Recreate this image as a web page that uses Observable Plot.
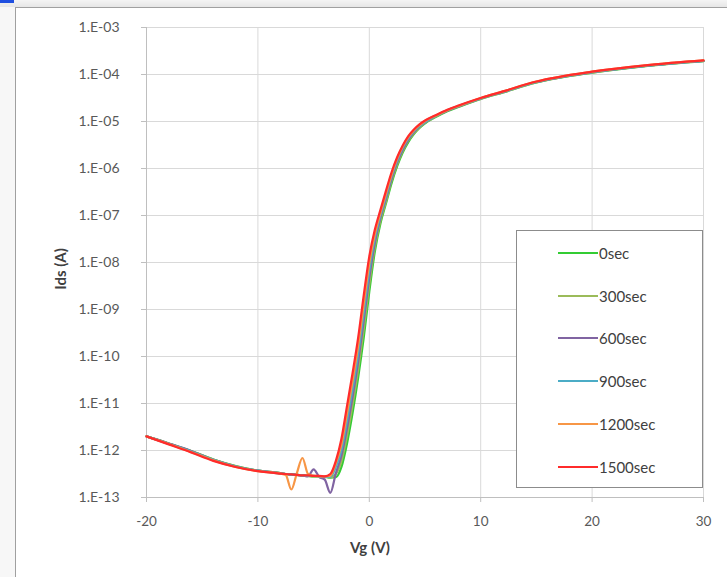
<!DOCTYPE html>
<html>
<head>
<meta charset="utf-8">
<script src="https://cdn.jsdelivr.net/npm/d3@7"></script>
<script src="https://cdn.jsdelivr.net/npm/@observablehq/plot@0.6"></script>
<style>
  html, body { margin: 0; padding: 0; background: #ffffff; }
  body { width: 727px; height: 577px; position: relative; overflow: hidden; font-family: Lato, "Open Sans", sans-serif; }
  #topbar { position: absolute; left: 0; top: 0; width: 727px; height: 7px; background: linear-gradient(#f4f4f4, #e6e6e6); }
  #bluemark { position: absolute; left: 0; top: 0; width: 14px; height: 3px; background: #1f4fe0; }
  #frame { position: absolute; left: 15px; top: 7px; width: 712px; height: 570px; border-left: 1px solid #a0a0a0; border-top: 1px solid #a0a0a0; box-sizing: border-box; background: #ffffff; }
  #leftpad { position: absolute; left: 0; top: 7px; width: 15px; height: 570px; background: #f7f7f7; }
  #chart { position: absolute; left: 15px; top: 8px; }
  .title { position: absolute; font-weight: bold; font-size: 15px; color: #404040; white-space: nowrap; }
  #legend { position: absolute; left: 516px; top: 230px; width: 187px; height: 258px; box-sizing: border-box; border: 1px solid #8c8c8c; background: #ffffff; }
  .lg-item { position: absolute; left: 41px; height: 18px; font-size: 15px; color: #404040; white-space: nowrap; }
  .lg-line { position: absolute; left: 0; top: 8px; width: 40px; height: 2px; }
  .lg-text { position: absolute; left: 41px; top: 0; line-height: 18px; }
</style>
</head>
<body>
<div id="topbar"></div>
<div id="bluemark"></div>
<div id="leftpad"></div>
<div id="frame"></div>
<div id="chart"></div>
<div class="title" id="ytitle" style="left:60px; top:269px; transform: translate(-50%,-50%) rotate(-90deg);">Ids (A)</div>
<div class="title" id="xtitle" style="left:370px; top:547px; transform: translate(-50%,-50%);">Vg (V)</div>
<div id="legend"></div>
<script>
// ---- data (log10 of Ids in A) ----
const vg = [-20,-18,-16,-14,-12,-10,-8,-7.5,-7,-6.5,-6,-5.5,-5,-4.5,-4,-3.5,-3,-2.5,-2,-1.5,-1,-0.5,0,0.5,1,1.5,2,2.5,3,3.5,4,4.5,5,6,7,8,10,12,15,20,25,30];

const log_0sec = [-11.70,-11.85,-12.01,-12.19,-12.33,-12.43,-12.48,-12.50,-12.51,-12.52,-12.53,-12.54,-12.55,-12.55,-12.56,-12.58,
  -12.57,-12.35,-11.85,-11.20,-10.45,-9.60,-8.62,-7.76,-7.17,-6.74,-6.31,-5.95,-5.66,-5.44,-5.27,-5.14,-5.04,-4.90,-4.78,-4.69,-4.52,-4.38,-4.17,-3.96,-3.815,-3.715];
const log_300sec = [-11.70,-11.85,-12.01,-12.19,-12.33,-12.43,-12.48,-12.50,-12.51,-12.52,-12.53,-12.54,-12.55,-12.55,-12.56,-12.57,
  -12.50,-12.23,-11.69,-11.03,-10.28,-9.42,-8.47,-7.67,-7.11,-6.70,-6.26,-5.91,-5.63,-5.41,-5.25,-5.13,-5.03,-4.89,-4.77,-4.68,-4.52,-4.38,-4.17,-3.96,-3.81,-3.71];
const log_600sec = [-11.70,-11.85,-12.01,-12.20,-12.34,-12.43,-12.48,-12.50,-12.51,-12.52,-12.53,-12.55,-12.40,-12.56,-12.62,-12.90,
  -12.48,-12.11,-11.53,-10.86,-10.11,-9.24,-8.32,-7.58,-7.05,-6.64,-6.22,-5.87,-5.60,-5.39,-5.23,-5.11,-5.02,-4.88,-4.77,-4.68,-4.51,-4.37,-4.16,-3.95,-3.81,-3.71];
const log_900sec = [-11.70,-11.86,-12.02,-12.20,-12.34,-12.43,-12.49,-12.50,-12.51,-12.52,-12.53,-12.54,-12.54,-12.55,-12.56,-12.56,
  -12.35,-11.99,-11.37,-10.69,-9.94,-9.06,-8.17,-7.48,-7.00,-6.59,-6.17,-5.83,-5.56,-5.36,-5.21,-5.10,-5.01,-4.88,-4.76,-4.67,-4.51,-4.37,-4.16,-3.95,-3.81,-3.71];
const log_1200sec = [-11.70,-11.86,-12.03,-12.21,-12.35,-12.44,-12.49,-12.52,-12.83,-12.48,-12.16,-12.50,-12.54,-12.55,-12.55,-12.54,
  -12.27,-11.87,-11.21,-10.52,-9.77,-8.88,-8.02,-7.39,-6.94,-6.53,-6.13,-5.79,-5.53,-5.33,-5.19,-5.08,-4.99,-4.87,-4.76,-4.67,-4.50,-4.36,-4.15,-3.94,-3.80,-3.70];
const log_1500sec = [-11.70,-11.87,-12.04,-12.22,-12.35,-12.44,-12.49,-12.50,-12.51,-12.52,-12.53,-12.53,-12.54,-12.54,-12.55,-12.50,
  -12.22,-11.75,-11.05,-10.35,-9.60,-8.70,-7.87,-7.30,-6.88,-6.47,-6.08,-5.76,-5.51,-5.31,-5.17,-5.06,-4.98,-4.86,-4.75,-4.66,-4.50,-4.36,-4.15,-3.94,-3.80,-3.70];

const seriesNames = ["0sec","300sec","600sec","900sec","1200sec","1500sec"];
const seriesColors = ["#33cc33","#9bbb59","#8064a2","#4bacc6","#f79646","#ff2b2b"];
const seriesLogs = [log_0sec, log_300sec, log_600sec, log_900sec, log_1200sec, log_1500sec];

const xTicks = [-20,-10,0,10,20,30];
const yTicks = [1e-13,1e-12,1e-11,1e-10,1e-9,1e-8,1e-7,1e-6,1e-5,1e-4,1e-3];
const yTickLabels = ["1.E-13","1.E-12","1.E-11","1.E-10","1.E-09","1.E-08","1.E-07","1.E-06","1.E-05","1.E-04","1.E-03"];

// ---- build ----
const tables = seriesNames.map((name, k) =>
  vg.map((v, i) => ({vg: v, ids: Math.pow(10, seriesLogs[k][i]), name}))
);

const gridColor = "#d9d9d9";
const axisColor = "#bfbfbf";
const textColor = "#595959";

const chart = Plot.plot({
  width: 712,
  height: 569,
  marginLeft: 131,
  marginRight: 24,
  marginTop: 19,
  marginBottom: 80,
  style: {background: "transparent", fontFamily: "Lato, 'Open Sans', sans-serif", fontSize: "13px", color: textColor},
  x: {domain: [-20, 30]},
  y: {type: "log", domain: [1e-13, 1e-3]},
  marks: [
    Plot.gridX(xTicks, {stroke: gridColor, strokeOpacity: 1}),
    Plot.gridY(yTicks, {stroke: gridColor, strokeOpacity: 1}),
    Plot.ruleY([1e-13], {stroke: axisColor}),
    Plot.ruleX([-20], {stroke: axisColor}),
    Plot.axisX(xTicks, {tickSize: 5, tickPadding: 14, stroke: axisColor, fill: textColor, fontSize: 13.5, label: null, tickFormat: d => String(d)}),
    Plot.axisY(yTicks, {tickSize: 5, tickPadding: 22, stroke: axisColor, fill: textColor, fontSize: 14, label: null,
      tickFormat: d => yTickLabels[yTicks.indexOf(d)]}),
    ...tables.map((t, k) => Plot.line(t, {x: "vg", y: "ids", stroke: seriesColors[k], strokeWidth: 2.2, curve: "monotone-x"}))
  ]
});
document.getElementById("chart").appendChild(chart);

// legend
const legend = document.getElementById("legend");
const legendTops = [13, 56, 98, 141, 184, 227];
seriesNames.forEach((name, k) => {
  const item = document.createElement("div");
  item.className = "lg-item";
  item.style.top = legendTops[k] + "px";
  const line = document.createElement("div");
  line.className = "lg-line";
  line.style.background = seriesColors[k];
  const txt = document.createElement("div");
  txt.className = "lg-text";
  txt.textContent = name;
  item.appendChild(line);
  item.appendChild(txt);
  legend.appendChild(item);
});
</script>
</body>
</html>
